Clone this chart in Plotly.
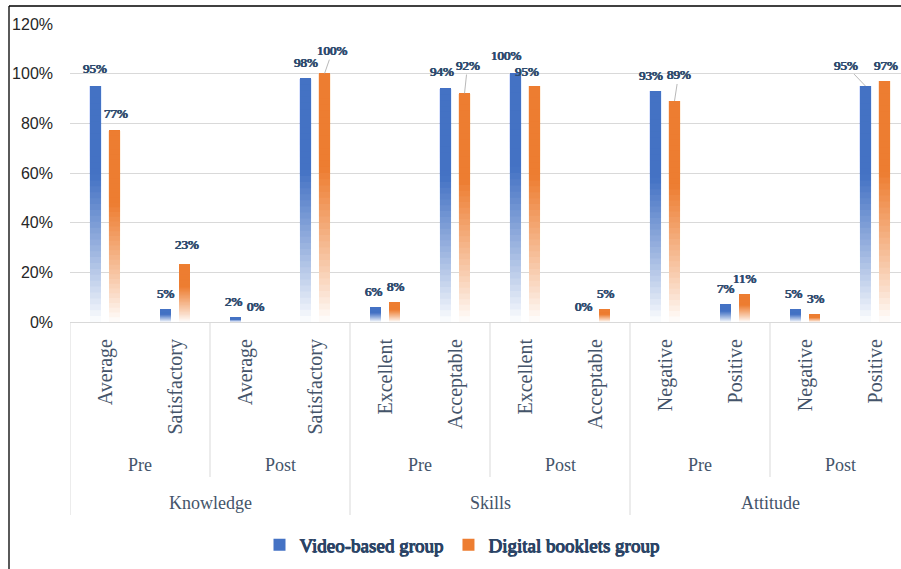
import plotly.graph_objects as go

# ---------------- data ----------------
domains = ["Knowledge", "Skills", "Attitude"]
phases = ["Pre", "Post"]
levels = ["Average", "Satisfactory", "Average", "Satisfactory",
          "Excellent", "Acceptable", "Excellent", "Acceptable",
          "Negative", "Positive", "Negative", "Positive"]
video_based = [95, 5, 2, 98, 6, 94, 100, 0, 93, 7, 5, 95]
digital_booklets = [77, 23, 0, 100, 8, 92, 95, 5, 89, 11, 3, 97]
series_names = ["Video-based group", "Digital booklets group"]
y_ticks = [0, 20, 40, 60, 80, 100, 120]

# ---------------- style ----------------
W, H = 901, 569
ML, MR, MT, MB = 70, 0, 24, 247
PW, PH = W - ML - MR, H - MT - MB
UNIT = 70.0  # pixels per category
colors = [(0x44, 0x72, 0xC4), (0xED, 0x7D, 0x31)]
BARGAP, BARGROUPGAP = 0.457, 0.42
NSEG = 40
serif = "Liberation Serif"
sans = "Liberation Sans"
axis_txt = "#44546A"
lab_txt = "#2E4A6E"
leg_txt = "#2B4466"
grid = "#D9D9D9"


def fake_bold(c, w=0.5):
    return f"{w}px 0 0 {c}, -{w}px 0 0 {c}, 0 {w/2}px 0 {c}"


def blend(rgb, a):
    r, g, b = (int(round(255 + (c - 255) * a)) for c in rgb)
    return f"rgb({r},{g},{b})"


def alpha_at(t):
    return min(1.0, (t / 0.62)) ** 0.9 if t > 0 else 0.0


fig = go.Figure()
x_idx = list(range(len(levels)))
for s, vals in enumerate([video_based, digital_booklets]):
    for k in range(NSEG):
        t = (k + 0.5) / NSEG
        fig.add_trace(go.Bar(
            x=x_idx,
            y=[v * (NSEG - k) / NSEG for v in vals],
            base=[v * k / NSEG for v in vals],
            offsetgroup=str(s),
            legendgroup=str(s),
            name=series_names[s],
            showlegend=(k == NSEG - 1),
            marker=dict(color=blend(colors[s], max(0.03, alpha_at(t))), line=dict(width=0)),
            hoverinfo="skip",
        ))

# ---------------- data labels ----------------
off = (1 - BARGAP) / 4
label_off = {
    (0, 0): (-1, -18), (0, 1): (1, -17),
    (1, 1): (2, -20),
    (3, 1): (8, -23),
    (5, 0): (-4, -17), (5, 1): (3, -28),
    (6, 0): (-9, -18), (6, 1): (-8, -15),
    (8, 0): (-5, -16), (8, 1): (4, -26),
    (11, 0): (-20, -21), (11, 1): (1, -16),
    (2, 0): (-2, -16), (2, 1): (1, -16),
    (4, 0): (-2, -16), (4, 1): (1, -16),
    (7, 0): (-2, -16), (7, 1): (1, -16),
    (10, 0): (-2, -16), (10, 1): (1, -16),
}
leaders = {(3, 1), (5, 1), (8, 1), (11, 0)}
for s, vals in enumerate([video_based, digital_booklets]):
    for i, v in enumerate(vals):
        dx, dy = label_off.get((i, s), (0, -16))
        lead = (i, s) in leaders
        fig.add_annotation(
            x=i + (-off if s == 0 else off), y=v, xref="x", yref="y",
            text=f"{v}%", showarrow=True, arrowhead=0, arrowwidth=0.8,
            arrowcolor="#A6A6A6" if lead else "rgba(0,0,0,0)",
            ax=dx, ay=dy, standoff=0,
            font=dict(family=serif, size=13, color=lab_txt, shadow=fake_bold(lab_txt, 0.4)),
        )

# ---------------- hierarchical axis labels ----------------
for d, dom in enumerate(domains):
    fig.add_annotation(x=d * 4 + 1.5, y=0, xref="x", yref="paper", yshift=-181,
                       text=dom, showarrow=False, yanchor="middle",
                       font=dict(family=serif, size=18, color=axis_txt))
    for p, ph in enumerate(phases):
        fig.add_annotation(x=d * 4 + p * 2 + 0.5, y=0, xref="x", yref="paper", yshift=-143,
                           text=ph, showarrow=False, yanchor="middle",
                           font=dict(family=serif, size=18, color=axis_txt))

shapes = []
for j in range(7):
    xb = -0.5 + 2 * j
    full = (j % 2 == 0)
    shapes.append(dict(type="line", xref="x", yref="paper", ysizemode="pixel", yanchor=0,
                       x0=xb, x1=xb, y0=0, y1=-193 if full else -155,
                       line=dict(color=grid, width=1)))

# outer frame (top and left black border)
fx0 = (9 - ML) / PW
fy_top = (H - MB - 6) / PH
fy_bot = (H - MB - H) / PH
shapes.append(dict(type="line", xref="paper", yref="paper", x0=fx0, x1=1.01, y0=fy_top, y1=fy_top,
                   line=dict(color="black", width=1.3)))
shapes.append(dict(type="line", xref="paper", yref="paper", x0=fx0, x1=fx0, y0=fy_top, y1=fy_bot,
                   line=dict(color="black", width=1.3)))

fig.update_layout(
    width=W, height=H, autosize=False,
    margin=dict(l=ML, r=MR, t=MT, b=MB, pad=0),
    paper_bgcolor="white", plot_bgcolor="white",
    barmode="group", bargap=BARGAP, bargroupgap=BARGROUPGAP,
    shapes=shapes,
    showlegend=True,
    legend=dict(orientation="h", x=(462 - ML) / PW, xanchor="center",
                y=(H - MB - 545) / PH, yanchor="middle",
                font=dict(family=serif, size=19, color=leg_txt, shadow=fake_bold(leg_txt, 0.5)),
                itemwidth=30, bgcolor="rgba(0,0,0,0)", tracegroupgap=0),
    xaxis=dict(range=[-0.5, -0.5 + PW / UNIT], tickmode="array", tickvals=x_idx, ticktext=levels,
               tickangle=-90, ticks="", ticklabelstandoff=8, showgrid=False,
               showline=True, linecolor=grid, linewidth=1, zeroline=False,
               tickfont=dict(family=serif, size=20, color=axis_txt)),
    yaxis=dict(range=[0, 120], tickmode="array", tickvals=y_ticks,
               ticktext=[f"{t}%" for t in y_ticks], showgrid=True, gridcolor=grid, gridwidth=1.3,
               zeroline=False, showline=False, ticks="", ticklabelstandoff=16,
               tickfont=dict(family=sans, size=16, color="#262626")),
)

fig.write_html("out.html")
